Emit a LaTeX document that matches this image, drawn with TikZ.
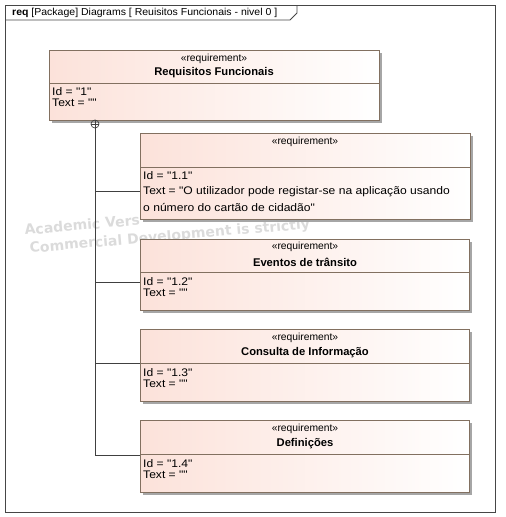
\documentclass[tikz,border=0pt]{standalone}
\usepackage{fontspec}
\setmainfont{Liberation Sans}
\newfontfamily\attrfont[FakeStretch=1.1]{Liberation Sans}
\newfontfamily\titlefont[FakeStretch=1.04]{Liberation Sans}
\newfontfamily\markfont{DejaVu Sans}
\usetikzlibrary{shadows}
\definecolor{reqpink}{RGB}{252,226,218}
\definecolor{reqedge}{RGB}{130,112,96}
\definecolor{framegray}{RGB}{70,70,70}
\tikzset{
  reqbox/.style={draw=reqedge, line width=0.8pt, left color=reqpink, right color=white,
    anchor=north west, inner sep=0pt,
    drop shadow={shadow xshift=2.5pt, shadow yshift=-2.5pt, fill=black!35, opacity=1}},
  stereo/.style={font=\fontsize{10.3}{12}\selectfont, inner sep=0pt},
  reqname/.style={font=\fontsize{11.2}{13}\selectfont\bfseries, inner sep=0pt},
  attr/.style={font=\attrfont\fontsize{11}{13}\selectfont, anchor=west, inner sep=0pt},
  divider/.style={draw=reqedge, line width=0.8pt},
  link/.style={draw=black!75, line width=0.8pt},
  watermark/.style={font=\markfont\fontsize{14}{16}\selectfont\bfseries, text=black!14,
    anchor=base west, inner sep=0pt, rotate=5},
}
\begin{document}
\begin{tikzpicture}[x=1pt,y=-1pt]
  \useasboundingbox (0,0) rectangle (506,517);

  % Frame and name tab.
  \draw[framegray, line width=0.9pt] (5,5) rectangle (495,512);
  \draw[framegray, line width=0.9pt] (5,20) -- (290,20) -- (297,13) -- (297,5);
  \node[anchor=west, inner sep=0pt, font=\titlefont\fontsize{10.1}{12}\selectfont] (title) at (12,12.5)
    {\textbf{req} [Package] Diagrams [ Reuisitos Funcionais - nivel 0 ]};

  % Watermark (only the part left uncovered).
  \node[watermark] (wm1) at (25,235) {Academic Vers};
  \node[watermark] (wm2) at (30,253) {Commercial Development is strictly};

  % Parent requirement.
  \node[reqbox, minimum width=330pt, minimum height=70pt] (r1) at (49,50) {};
  \draw[divider] (49,83) -- (379,83);
  \node[stereo] (r1s) at (214,59) {«requirement»};
  \node[reqname] (r1n) at (214,73) {Requisitos Funcionais};
  \node[attr] (r1id) at (52,92) {Id = "1"};
  \node[attr] (r1tx) at (52,103) {Text = ""};

  % Containment marker.
  \node[draw=black!75, line width=0.7pt, circle, minimum size=8pt, inner sep=0pt] (plus) at (95,124) {};
  \draw[link, line width=0.6pt] (plus.north) -- (plus.south) (plus.west) -- (plus.east);

  % Requirement 1.1
  \node[reqbox, minimum width=330pt, minimum height=86pt] (r11) at (140,133) {};
  \draw[divider] (140,167) -- (470,167);
  \node[stereo] (r11s) at (305,142) {«requirement»};
  \node[attr] (r11id) at (143,176) {Id = "1.1"};
  \node[attr] (r11tx) at (143,192) {Text = "O utilizador pode registar-se na aplicação usando};
  \node[attr] (r11tx2) at (143,207) {o número do cartão de cidadão"};

  % Requirement 1.2
  \node[reqbox, minimum width=329pt, minimum height=71pt] (r12) at (140,239) {};
  \draw[divider] (140,272) -- (469,272);
  \node[stereo] (r12s) at (305,247) {«requirement»};
  \node[reqname] (r12n) at (305,262) {Eventos de trânsito};
  \node[attr] (r12id) at (143,282) {Id = "1.2"};
  \node[attr] (r12tx) at (143,293) {Text = ""};

  % Requirement 1.3
  \node[reqbox, minimum width=329pt, minimum height=72pt] (r13) at (140,329) {};
  \draw[divider] (140,363) -- (469,363);
  \node[stereo] (r13s) at (305,338) {«requirement»};
  \node[reqname] (r13n) at (305,353) {Consulta de Informação};
  \node[attr] (r13id) at (143,373) {Id = "1.3"};
  \node[attr] (r13tx) at (143,384) {Text = ""};

  % Requirement 1.4
  \node[reqbox, minimum width=329pt, minimum height=72pt] (r14) at (140,420) {};
  \draw[divider] (140,454) -- (469,454);
  \node[stereo] (r14s) at (305,429) {«requirement»};
  \node[reqname] (r14n) at (305,444) {Definições};
  \node[attr] (r14id) at (143,464) {Id = "1.4"};
  \node[attr] (r14tx) at (143,475) {Text = ""};

  % Containment links.
  \coordinate (t11) at (95,191);
  \coordinate (t12) at (95,282);
  \coordinate (t13) at (95,363);
  \coordinate (t14) at (95,455);
  \draw[link] (plus.south) -- (t14);
  \draw[link] (t11) -- (r11.west |- t11);
  \draw[link] (t12) -- (r12.west |- t12);
  \draw[link] (t13) -- (r13.west |- t13);
  \draw[link] (t14) -- (r14.west |- t14);

\end{tikzpicture}
\end{document}
